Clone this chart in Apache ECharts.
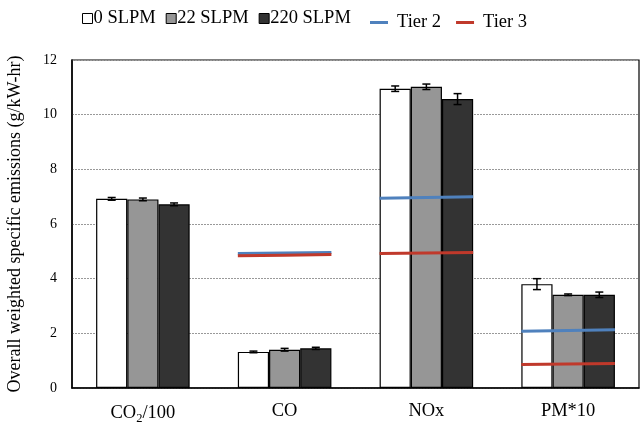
<!DOCTYPE html>
<html>
<head>
<meta charset="utf-8">
<script src="https://cdn.jsdelivr.net/npm/echarts@6/dist/echarts.min.js"></script>
<style>
  html, body { margin: 0; padding: 0; background: #fff; }
  #chart { width: 641px; height: 425px; }
</style>
</head>
<body>
<div id="chart"></div>
<script>
// Emission categories (x axis)
const categories = ['CO2/100', 'CO', 'NOx', 'PM*10'];

// Overall weighted specific emissions (g/kW-hr) per flow rate
const slpm0   = [6.92, 1.32, 10.95, 3.80];
const slpm22  = [6.90, 1.40, 11.02, 3.41];
const slpm220 = [6.72, 1.45, 10.57, 3.41];

// Error bar half-widths
const err0   = [0.05, 0.03, 0.10, 0.20];
const err22  = [0.05, 0.05, 0.10, 0.03];
const err220 = [0.05, 0.04, 0.20, 0.10];

// Emission standards across each category group (left, middle, right)
const tier2 = [
  null,
  [4.92, 4.94, 4.96],
  [6.94, 6.97, 7.00],
  [2.08, 2.10, 2.13]
];
const tier3 = [
  null,
  [4.84, 4.86, 4.88],
  [4.92, 4.94, 4.96],
  [0.86, 0.88, 0.90]
];

// Y axis ticks
const yMin = 0, yMax = 12, yStep = 2;

const FONT = '"Liberation Serif", "Times New Roman", serif';
const BAR_W = 0.22; // fraction of category band per bar

// I-shaped error bars centred on each bar of a group
function errorSeries(name, vals, errs, slot) {
  return {
    type: 'custom',
    name: name + ' err',
    z: 5,
    silent: true,
    data: vals.map(function (v, i) { return [i, v, errs[i]]; }),
    renderItem: function (params, api) {
      const i = api.value(0), v = api.value(1), e = api.value(2);
      const band = api.size([1, 0])[0];
      const cx = api.coord([i, v])[0] + (slot - 1) * band * BAR_W;
      const hi = api.coord([i, v + e])[1];
      const lo = api.coord([i, v - e])[1];
      const cap = 4;
      const st = { stroke: '#000', lineWidth: 1.5 };
      return {
        type: 'group',
        children: [
          { type: 'line', shape: { x1: cx, y1: hi, x2: cx, y2: lo }, style: st },
          { type: 'line', shape: { x1: cx - cap, y1: hi, x2: cx + cap, y2: hi }, style: st },
          { type: 'line', shape: { x1: cx - cap, y1: lo, x2: cx + cap, y2: lo }, style: st }
        ]
      };
    }
  };
}

// Standard limit drawn as a segment spanning the bar group of a category
function tierSeries(name, groups, color) {
  const data = [];
  groups.forEach(function (g, i) { if (g) data.push([i, g[0], g[1], g[2]]); });
  return {
    type: 'custom',
    name: name,
    z: 6,
    silent: true,
    itemStyle: { color: color },
    data: data,
    renderItem: function (params, api) {
      const i = api.value(0);
      const band = api.size([1, 0])[0];
      const half = 1.5 * BAR_W * band;
      const pts = [1, 2, 3].map(function (k, idx) {
        const p = api.coord([i, api.value(k)]);
        return [p[0] + (idx - 1) * half, p[1]];
      });
      return {
        type: 'polyline',
        shape: { points: pts },
        style: { stroke: color, lineWidth: 3, fill: null }
      };
    }
  };
}

const legendText = { fontFamily: FONT, fontSize: 18.5, color: '#000' };

const chart = echarts.init(document.getElementById('chart'));
chart.setOption({
  animation: false,
  backgroundColor: '#fff',
  legend: [
    {
      top: 9,
      left: 82,
      padding: 0,
      itemGap: 10,
      itemWidth: 10,
      itemHeight: 10,
      itemStyle: { borderWidth: 1, borderColor: '#000' },
      textStyle: Object.assign({ padding: [0, 0, 0, -4] }, legendText),
      data: [
        { name: '0 SLPM', icon: 'rect' },
        { name: '22 SLPM', icon: 'rect' },
        { name: '220 SLPM', icon: 'rect' }
      ]
    },
    {
      top: 13,
      left: 370,
      padding: 0,
      itemGap: 15,
      itemWidth: 18,
      itemHeight: 3,
      textStyle: Object.assign({ padding: [0, 0, 0, 4] }, legendText),
      data: [
        { name: 'Tier 2', icon: 'rect' },
        { name: 'Tier 3', icon: 'rect' }
      ]
    }
  ],
  grid: {
    left: 72, right: 2, top: 60, bottom: 37,
    outerBoundsMode: 'none',
    containLabel: false,
    show: true, borderColor: '#000', borderWidth: 1.2
  },
  xAxis: {
    type: 'category',
    data: categories,
    axisTick: { show: false },
    axisLine: { lineStyle: { color: '#000', width: 1.5 } },
    axisLabel: {
      interval: 0,
      margin: 14,
      fontFamily: FONT, fontSize: 18.5, color: '#000',
      formatter: function (v) { return v === 'CO2/100' ? 'CO{sub|2}/100' : v; },
      rich: { sub: { fontFamily: FONT, fontSize: 12.5, color: '#000', verticalAlign: 'bottom', padding: [10, 0, 0, 0] } }
    }
  },
  yAxis: {
    type: 'value',
    min: yMin, max: yMax, interval: yStep,
    name: 'Overall weighted specific emissions (g/kW-hr)',
    nameLocation: 'middle',
    nameGap: 48,
    nameTextStyle: { fontFamily: FONT, fontSize: 18, color: '#000' },
    axisLine: { show: true, lineStyle: { color: '#000', width: 1.5 } },
    axisTick: { show: false },
    axisLabel: { fontFamily: FONT, fontSize: 14, color: '#000', margin: 15 },
    splitLine: { lineStyle: { color: '#999', type: [2, 1], width: 1 } }
  },
  series: [
    {
      name: '0 SLPM', type: 'bar', data: slpm0,
      barWidth: (BAR_W * 100) + '%', barGap: '0%',
      itemStyle: { color: '#ffffff', borderColor: '#000', borderWidth: 1.2 }
    },
    {
      name: '22 SLPM', type: 'bar', data: slpm22,
      barWidth: (BAR_W * 100) + '%', barGap: '0%',
      itemStyle: { color: '#969696', borderColor: '#000', borderWidth: 1.2 }
    },
    {
      name: '220 SLPM', type: 'bar', data: slpm220,
      barWidth: (BAR_W * 100) + '%', barGap: '0%',
      itemStyle: { color: '#333333', borderColor: '#000', borderWidth: 1.2 }
    },
    errorSeries('0 SLPM', slpm0, err0, 0),
    errorSeries('22 SLPM', slpm22, err22, 1),
    errorSeries('220 SLPM', slpm220, err220, 2),
    tierSeries('Tier 2', tier2, '#4F81BD'),
    tierSeries('Tier 3', tier3, '#C0392B')
  ]
});
</script>
</body>
</html>
